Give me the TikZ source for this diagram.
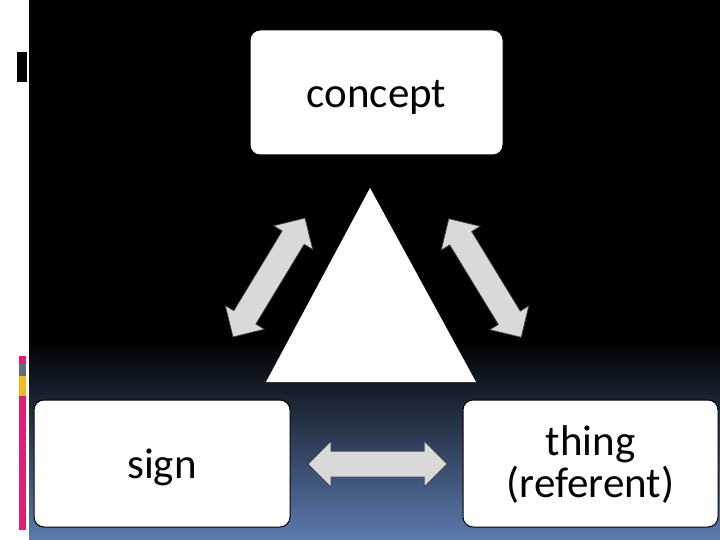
\documentclass[tikz,border=0pt]{standalone}
\usepackage{fontspec}
\setmainfont{Carlito}
\usetikzlibrary{shapes.arrows}
\definecolor{bgblue}{RGB}{92,122,175}
\definecolor{barpink}{RGB}{224,30,120}
\definecolor{bargray}{RGB}{95,110,120}
\definecolor{baryellow}{RGB}{240,185,30}
\tikzset{
  termbox/.style={draw=black, line width=1pt, fill=white, rounded corners=10pt,
    inner sep=0pt, align=center, font=\fontsize{43}{42}\selectfont},
  silverarrow/.style={double arrow, draw=black!75, line width=0.7pt,
    minimum height=139pt, inner xsep=0pt, inner ysep=12.5pt,
    text height=0pt, text depth=0pt, text width=0pt,
    double arrow head extend=10pt, double arrow tip angle=90,
    top color=gray!30, middle color=gray!68, bottom color=gray!30}
}
\newcommand{\lowtext}[2]{\raisebox{-#1}[0pt][0pt]{#2}}
\begin{document}
\begin{tikzpicture}[x=1pt,y=-1pt]
\useasboundingbox (0,0) rectangle (720,540);
\fill[white] (0,0) rectangle (720,540);
\fill[black] (29,0) rectangle (720,540);
\shade[top color=black, bottom color=bgblue] (29,340) rectangle (720,540);
% left decorations
\fill[black] (17,52) rectangle (27,82);
\fill[barpink] (19,356) rectangle (26,364);
\fill[bargray] (19,364) rectangle (26,376);
\fill[baryellow] (19,376) rectangle (26,396);
\fill[barpink] (19,396) rectangle (26,530);
% boxes
\node[termbox, minimum width=253pt, minimum height=125pt] (concept) at (376.5,92.5) {\lowtext{15.5pt}{concept}};
\node[termbox, minimum width=256pt, minimum height=127pt] (sign) at (162,463.5) {\lowtext{14.5pt}{sign}};
\node[termbox, minimum width=255pt, minimum height=127pt] (thing) at (590.5,463.5) {\lowtext{12.5pt}{thing}\\\lowtext{12.5pt}{(referent)}};
% triangle
\fill[white] (370,188) -- (476,382) -- (266,382) -- cycle;
% arrows
\node[silverarrow, rotate=58.8] (a1) at (269,277.5) {};
\node[silverarrow, rotate=-58.6] (a2) at (485,278) {};
\node[silverarrow] (a3) at (377.5,464) {};
\end{tikzpicture}
\end{document}
